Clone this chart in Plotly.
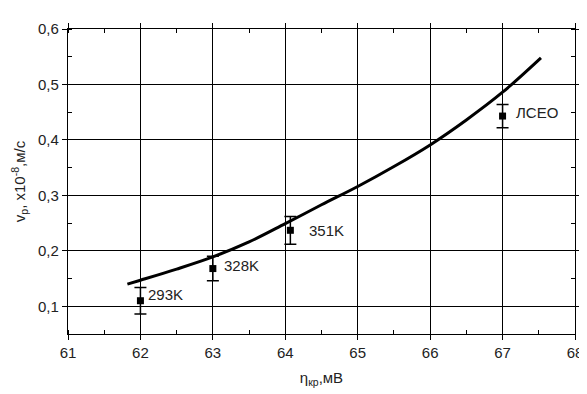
import plotly.graph_objects as go

# Data
pt_x = [62.0, 63.0, 64.07, 67.0]
pt_y = [0.110, 0.168, 0.237, 0.443]
pt_err = [0.024, 0.022, 0.025, 0.021]
pt_labels = ["293K", "328K", "351K", "ЛСЕО"]
lbl_x = [62.08, 63.12, 64.3, 67.16]
lbl_y = [0.121, 0.173, 0.237, 0.450]

curve_x = [61.82, 62.0, 62.5, 63.0, 63.5, 64.0, 64.5, 65.0, 65.5, 66.0, 66.5, 67.0, 67.53]
curve_y = [0.140, 0.147, 0.167, 0.189, 0.216, 0.249, 0.283, 0.316, 0.352, 0.391, 0.436, 0.486, 0.548]

FS = 15
FC = "#222"

fig = go.Figure()
fig.add_trace(go.Scatter(x=curve_x, y=curve_y, mode="lines",
                         line=dict(color="black", width=3, shape="spline"),
                         hoverinfo="skip", showlegend=False))
fig.add_trace(go.Scatter(x=pt_x, y=pt_y, mode="markers",
                         marker=dict(symbol="square", size=7, color="black"),
                         error_y=dict(type="data", array=pt_err, visible=True,
                                      color="black", thickness=1.5, width=6),
                         showlegend=False))

for x, y, t in zip(lbl_x, lbl_y, pt_labels):
    fig.add_annotation(x=x, y=y, text=t, showarrow=False, xanchor="left",
                       yanchor="middle", font=dict(size=FS, color=FC))

axis_common = dict(showline=True, linecolor="black", linewidth=1.2, mirror="ticks",
                   showgrid=True, gridcolor="black", gridwidth=1,
                   ticks="outside", ticklen=5, tickcolor="black",
                   zeroline=False, tickfont=dict(size=FS, color=FC))

fig.update_xaxes(range=[61, 68], dtick=1, tick0=61,
                 minor=dict(ticks="inside", ticklen=4, dtick=0.5, tick0=61,
                            tickcolor="black"),
                 title=dict(text="η<sub>кр</sub>,мВ", font=dict(size=FS, color=FC), standoff=12),
                 **axis_common)
fig.update_yaxes(range=[0.05, 0.6], tickvals=[0.1, 0.2, 0.3, 0.4, 0.5, 0.6], tickformat=".1f",
                 minor=dict(ticks="inside", ticklen=4, dtick=0.05, tick0=0.05,
                            tickcolor="black"),
                 title=dict(text="v<sub>p</sub>, x10<sup>-8</sup>,м/с", font=dict(size=FS, color=FC), standoff=8),
                 **axis_common)

fig.update_layout(width=587, height=394, margin=dict(l=60, r=18, t=12, b=68),
                  plot_bgcolor="white", paper_bgcolor="white",
                  separators=", ", font=dict(family="Liberation Sans, Arial, sans-serif"))

fig.write_html("out.html")
